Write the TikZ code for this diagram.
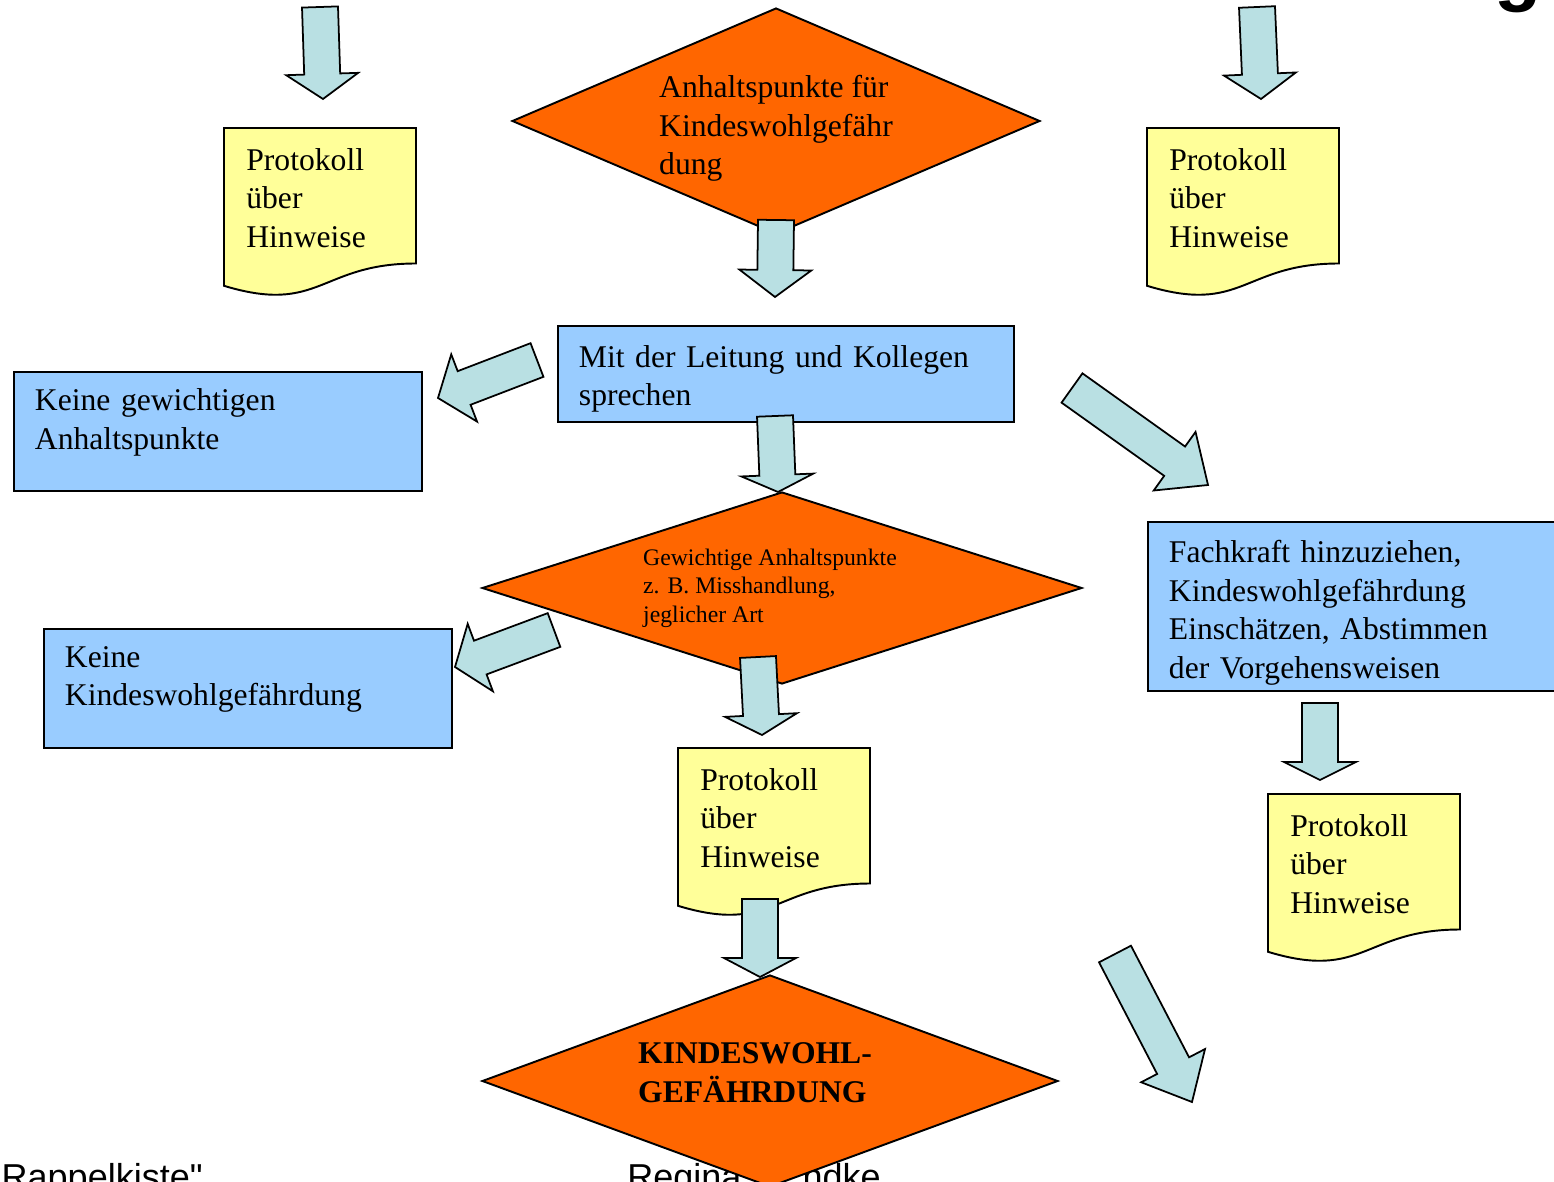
\documentclass[tikz,border=0pt]{standalone}
\usepackage{fontspec}
\setmainfont{Liberation Serif}
\newfontfamily\fussfont{Liberation Sans}
\usepackage{tikz}
\usetikzlibrary{shapes,calc,positioning}
\definecolor{orangefill}{HTML}{FF6600}
\definecolor{blaufill}{HTML}{99CCFF}
\definecolor{gelbfill}{HTML}{FFFF99}
\definecolor{pfeilfill}{HTML}{B9E0E3}
\tikzset{
  raute/.style={diamond, draw, line width=1.1pt, fill=orangefill, align=left, inner sep=0pt},
  kasten/.style={rectangle, draw, line width=1.1pt, fill=blaufill, anchor=north west, align=left, inner xsep=0.42cm, font=\fontsize{18}{21.9}\selectfont},
  protokoll/.style={draw, line width=1.1pt, fill=gelbfill},
  pfeil/.style={draw, line width=1pt, fill=pfeilfill, line join=miter},
}
\begin{document}
\begin{tikzpicture}[x=0.02cm, y=-0.02cm]

\path[use as bounding box] (0,0) rectangle (1554,1182);
\clip (0,0) rectangle (1554,1182);

\node[anchor=base east, inner sep=0pt, font=\fussfont\fontsize{20.5}{24}\selectfont] (fuss1) at (203,1189) {Rappelkiste"};
\node[anchor=base west, inner sep=0pt, font=\fussfont\fontsize{20.5}{24}\selectfont] (fuss2) at (627,1189) {Regina};
\node[anchor=base east, inner sep=0pt, font=\fussfont\fontsize{20.5}{24}\selectfont] (fuss3) at (881,1189) {ndke};
\node[anchor=base, inner sep=0pt, font=\fussfont\bfseries\fontsize{44}{50}\selectfont] (titel) at (1518,-3) {g};

\foreach \x/\y/\n in {224/128/p1, 1147/128/p2, 678/748/p3, 1268/794/p4}{
  \filldraw[protokoll] (\x,\y) -- (\x+192,\y) -- (\x+192,\y+135.5) .. controls (\x+96,\y+135.5) and (\x+96,\y+187) .. (\x,\y+157.8) -- cycle;
  \node[anchor=north west, inner sep=0pt, align=left, font=\fontsize{18}{21.9}\selectfont] (\n) at (\x+22,\y+20) {Protokoll\\über\\Hinweise};
}

\node[raute, aspect=2.34, minimum width=10.56cm, minimum height=4.52cm, font=\fontsize{18}{21.9}\selectfont] (d1) at (776,121) {\rule{0pt}{0.75cm}Anhaltspunkte für\\Kindeswohlgefähr\\dung};
\node[raute, aspect=3.125, minimum width=12cm, minimum height=3.84cm, font=\fontsize{13.5}{16.2}\selectfont] (d2) at (782,588) {Gewichtige Anhaltspunkte\hspace*{0.48cm}\\z. B. Misshandlung,\\jeglicher Art};
\node[raute, aspect=2.72, minimum width=11.52cm, minimum height=4.24cm, font=\bfseries\fontsize{18}{21.9}\selectfont] (d3) at (770,1081) {KINDESWOHL-\hspace*{0.6cm}\\GEFÄHRDUNG\rule[-0.34cm]{0pt}{0.34cm}};

\node[kasten, minimum width=9.12cm, minimum height=1.92cm, text width=8.28cm] (leitung) at (557,325) {\rule{0pt}{0.63cm}Mit der Leitung und Kollegen\\sprechen};
\node[kasten, minimum width=8.16cm, minimum height=2.38cm, text width=7.32cm] (keineanh) at (13,371) {Keine gewichtigen\\Anhaltspunkte\rule[-0.5cm]{0pt}{0.5cm}};
\node[kasten, minimum width=8.4cm, minimum height=3.36cm, text width=7.56cm] (fachkraft) at (1147,521) {\rule{0pt}{0.7cm}Fachkraft hinzuziehen,\\Kindeswohlgefährdung\\Einschätzen, Abstimmen\\der Vorgehensweisen};
\node[kasten, minimum width=8.16cm, minimum height=2.38cm, text width=7.32cm] (keinekwg) at (43,628) {Keine\\Kindeswohlgefährdung\rule[-0.5cm]{0pt}{0.5cm}};

\foreach \tx/\ty/\sx/\sy/\hl in {320/7/323/99/0.5cm, 1257/7/1261/99/0.5cm, 776/220/775/297/0.54cm, 537/360/438/398/0.56cm, 1072/388/1208/485/0.82cm, 775/416/778/492/0.34cm, 554/630/455/667/0.54cm, 758/657/762/735/0.4cm, 760/899/760/977/0.38cm, 1320/703/1320/780/0.36cm, 1115/954/1192/1102/0.82cm}{
  \coordinate (pa) at (\tx,\ty);
  \coordinate (pb) at (\sx,\sy);
  \coordinate (pc) at ($(pb)!\hl!(pa)$);
  \filldraw[pfeil] ($(pa)!0.36cm!90:(pb)$) -- ($(pc)!0.36cm!-90:(pa)$) -- ($(pc)!0.72cm!-90:(pa)$) -- (pb) -- ($(pc)!0.72cm!90:(pa)$) -- ($(pc)!0.36cm!90:(pa)$) -- ($(pa)!0.36cm!-90:(pb)$) -- cycle;
}

\end{tikzpicture}
\end{document}
